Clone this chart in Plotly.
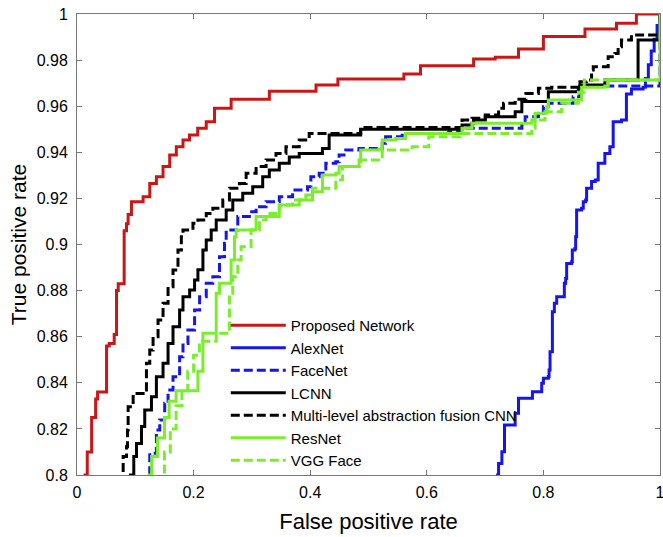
import plotly.graph_objects as go

# ---------------- data ----------------
proposed_x = [0.0137, 0.0137, 0.0176, 0.0176, 0.0251, 0.0251, 0.032, 0.0353, 0.0507, 0.0507, 0.0553, 0.0638, 0.0678,
              0.0707, 0.0809, 0.0849, 0.0877, 0.0934, 0.1134, 0.1248, 0.1362, 0.1476, 0.159, 0.1704, 0.1818, 0.193,
              0.207, 0.2217, 0.2359, 0.2644, 0.33, 0.41, 0.4475, 0.5607, 0.5892, 0.6803, 0.7174, 0.7573, 0.80,
              0.8713, 0.9254, 0.9595, 1.0]
proposed_y = [0.79, 0.80, 0.810, 0.810, 0.821, 0.825, 0.833, 0.836, 0.836, 0.856, 0.857, 0.861, 0.880,
              0.883, 0.906, 0.909, 0.913, 0.9186, 0.9207, 0.9265, 0.9294, 0.9338, 0.9388, 0.9424, 0.9453, 0.9475,
              0.9504, 0.9533, 0.9591, 0.963, 0.9665, 0.9692, 0.9718, 0.974, 0.9776, 0.9805, 0.9812, 0.9848, 0.9902,
              0.9935, 0.996, 1.0, 1.0]

alexnet_x = [0.7214, 0.7214, 0.7231, 0.7288, 0.7333, 0.7333, 0.7516, 0.7516, 0.7573, 0.78, 0.7812, 0.7943, 0.7971,
             0.80, 0.8085, 0.8097, 0.8114, 0.8154, 0.8154, 0.8188, 0.8228, 0.8342, 0.8359, 0.8382, 0.8399, 0.8484,
             0.8496, 0.8541, 0.8553, 0.857, 0.8655, 0.8684, 0.8724, 0.8741, 0.8798, 0.8826, 0.889, 0.894, 0.9054,
             0.914, 0.9197, 0.9339, 0.9424, 0.9424, 0.951, 0.971, 0.975, 0.98, 0.985, 0.99, 0.995, 1.0]
alexnet_y = [0.79, 0.80, 0.805, 0.8101, 0.8108, 0.8217, 0.8217, 0.8268, 0.8333, 0.8333, 0.8361, 0.8361, 0.8398,
             0.842, 0.8427, 0.8456, 0.8535, 0.8542, 0.8708, 0.8745, 0.8773, 0.8773, 0.8832, 0.8853, 0.8918, 0.8925,
             0.8976, 0.8983, 0.9034, 0.915, 0.9157, 0.9186, 0.9193, 0.9244, 0.9244, 0.9273, 0.928, 0.9352, 0.9395,
             0.9424, 0.9533, 0.954, 0.9598, 0.9653, 0.9675, 0.9682, 0.972, 0.978, 0.984, 0.989, 0.995, 1.0]

facenet_x = [0.1191, 0.1191, 0.1248, 0.1362, 0.1419, 0.1504, 0.1562, 0.1647, 0.176, 0.1818, 0.1903, 0.2017, 0.2103,
             0.2217, 0.233, 0.2444, 0.253, 0.2559, 0.2758, 0.2957, 0.3072, 0.3243, 0.347, 0.3698, 0.3954, 0.4011,
             0.4154, 0.4268, 0.4439, 0.4496, 0.461, 0.4838, 0.5236, 0.5293, 0.5578, 0.6376, 0.6576, 0.763, 0.7687,
             0.7915, 0.80, 0.8085, 0.851, 0.8627, 1.0, 1.0]
facenet_y = [0.79, 0.80, 0.8094, 0.8195, 0.8239, 0.8311, 0.8369, 0.8426, 0.8513, 0.8571, 0.8629, 0.8716, 0.8773,
             0.8832, 0.886, 0.8947, 0.9005, 0.9063, 0.9121, 0.9142, 0.9164, 0.9186, 0.9207, 0.9236, 0.9251, 0.9294,
             0.9309, 0.9352, 0.9359, 0.9388, 0.941, 0.9417, 0.9439, 0.9468, 0.9482, 0.9489, 0.9504, 0.9518, 0.9554,
             0.9569, 0.9598, 0.9613, 0.9641, 0.9688, 0.9714, 1.0]

lcnn_x = [0.0917, 0.0917, 0.0974, 0.102, 0.1106, 0.1162, 0.1277, 0.1362, 0.1476, 0.1562, 0.1647, 0.176, 0.1818,
          0.1932, 0.2017, 0.2074, 0.216, 0.2217, 0.2302, 0.2388, 0.2559, 0.2672, 0.2843, 0.3014, 0.3185, 0.3299,
          0.347, 0.3641, 0.3812, 0.421, 0.4325, 0.4866, 0.4866, 0.6576, 0.6604, 0.6775, 0.6803, 0.6974, 0.7003,
          0.7459, 0.7516, 0.763, 0.8085, 0.8085, 0.8598, 0.8627, 0.9054, 0.9624, 0.9624, 0.991, 1.0]
lcnn_y = [0.79, 0.80, 0.808, 0.8137, 0.821, 0.8282, 0.834, 0.8426, 0.8485, 0.8571, 0.8643, 0.8716, 0.8773,
          0.8803, 0.8846, 0.889, 0.8976, 0.902, 0.9063, 0.9106, 0.915, 0.9193, 0.9222, 0.9251, 0.9294, 0.9323,
          0.9352, 0.938, 0.9395, 0.9417, 0.9475, 0.9475, 0.9500, 0.9500, 0.9518, 0.9526, 0.954, 0.954, 0.9554,
          0.9554, 0.9576, 0.9620, 0.9627, 0.9663, 0.9678, 0.9692, 0.9714, 0.9714, 0.9887, 0.9887, 1.0]

mlaf_x = [0.0792, 0.0792, 0.0849, 0.0866, 0.0877, 0.0963, 0.1134, 0.1191, 0.1248, 0.1305, 0.139, 0.1476, 0.1562,
          0.1647, 0.1732, 0.179, 0.1818, 0.196, 0.1989, 0.2074, 0.2217, 0.233, 0.2501, 0.2615, 0.2786, 0.2901,
          0.3072, 0.3243, 0.3413, 0.3584, 0.3812, 0.3983, 0.4866, 0.6576, 0.6604, 0.6775, 0.7003, 0.7231, 0.7316,
          0.7516, 0.77, 0.7915, 0.8142, 0.8627, 0.874, 0.8826, 0.8855, 0.9054, 0.9111, 0.9225, 0.9282, 0.9339,
          0.951, 0.9966, 1.0]
mlaf_y = [0.79, 0.808, 0.8123, 0.8195, 0.8296, 0.8354, 0.8369, 0.8485, 0.8542, 0.86, 0.8672, 0.8745, 0.8817,
          0.8889, 0.8976, 0.9049, 0.9063, 0.907, 0.9092, 0.9106, 0.9135, 0.9157, 0.9193, 0.9244, 0.9265, 0.9309,
          0.9338, 0.9367, 0.9395, 0.9424, 0.9453, 0.9482, 0.9508, 0.9508, 0.954, 0.9548, 0.9562, 0.9591, 0.9613,
          0.963, 0.9655, 0.9678, 0.9682, 0.9706, 0.9714, 0.9757, 0.9771, 0.9771, 0.9815, 0.9829, 0.9858, 0.9887,
          0.9909, 0.9916, 1.0]

resnet_x = [0.1236, 0.1236, 0.128, 0.138, 0.15, 0.158, 0.17, 0.2074, 0.2074, 0.216, 0.2388, 0.2444, 0.2615,
            0.2644, 0.2701, 0.273, 0.2986, 0.3072, 0.347, 0.3812, 0.404, 0.421, 0.4439, 0.4496, 0.4838, 0.4866,
            0.518, 0.5236, 0.5465, 0.5636, 0.6604, 0.6604, 0.6775, 0.78, 0.7858, 0.8057, 0.8085, 0.8598, 0.8655,
            0.9054, 0.9111, 1.0, 1.0]
resnet_y = [0.79, 0.80, 0.808, 0.816, 0.825, 0.832, 0.8366, 0.8366, 0.845, 0.8615, 0.8788, 0.8832, 0.8832,
            0.8933, 0.9034, 0.9063, 0.9063, 0.9121, 0.9171, 0.9193, 0.9229, 0.9302, 0.9309, 0.9338, 0.9359, 0.941,
            0.9413, 0.9453, 0.946, 0.9482, 0.9482, 0.9504, 0.9526, 0.954, 0.9569, 0.9598, 0.9627, 0.9627, 0.9682,
            0.9688, 0.9714, 0.9714, 1.0]

vgg_x = [0.1476, 0.1476, 0.15, 0.16, 0.17, 0.18, 0.19, 0.2, 0.21, 0.2388, 0.2615, 0.2672, 0.2758, 0.2815,
         0.2986, 0.2986, 0.3128, 0.3243, 0.347, 0.3698, 0.3926, 0.404, 0.4439, 0.4553, 0.4838, 0.5236, 0.5749,
         0.6034, 0.6576, 0.78, 0.7858, 0.8028, 0.8313, 0.86, 0.87, 1.0]
vgg_y = [0.79, 0.80, 0.81, 0.82, 0.83, 0.8366, 0.845, 0.852, 0.858, 0.8615, 0.8788, 0.886, 0.8933, 0.899,
         0.9027, 0.9063, 0.9106, 0.9135, 0.9171, 0.9193, 0.9215, 0.9244, 0.928, 0.9338, 0.9367, 0.941, 0.9424,
         0.9468, 0.9482, 0.9504, 0.954, 0.9576, 0.9613, 0.966, 0.9714, 0.9714]

names = ["Proposed Network", "AlexNet", "FaceNet", "LCNN", "Multi-level abstraction fusion CNN", "ResNet", "VGG Face"]
xticks = [0, 0.2, 0.4, 0.6, 0.8, 1]
xticktext = ["0", "0.2", "0.4", "0.6", "0.8", "1"]
yticks = [0.8, 0.82, 0.84, 0.86, 0.88, 0.9, 0.92, 0.94, 0.96, 0.98, 1]
yticktext = ["0.8", "0.82", "0.84", "0.86", "0.88", "0.9", "0.92", "0.94", "0.96", "0.98", "1"]

# ---------------- styling ----------------
RED = "rgb(204,22,22)"
BLUE = "rgb(22,22,235)"
BLACK = "rgb(0,0,0)"
GREEN = "rgb(122,238,44)"
DASH = "9px,4px"

series = [
    (proposed_x, proposed_y, RED, "solid"),
    (alexnet_x, alexnet_y, BLUE, "solid"),
    (facenet_x, facenet_y, BLUE, DASH),
    (lcnn_x, lcnn_y, BLACK, "solid"),
    (mlaf_x, mlaf_y, BLACK, DASH),
    (resnet_x, resnet_y, GREEN, "solid"),
    (vgg_x, vgg_y, GREEN, DASH),
]

fig = go.Figure()
for name, (xs, ys, col, dash) in zip(names, series):
    fig.add_trace(go.Scatter(x=xs, y=ys, mode="lines", name=name,
                             line=dict(color=col, width=3, dash=dash, shape="hv")))

FONT = "Liberation Sans, Arial, Helvetica, sans-serif"
axis_common = dict(showline=True, linecolor="rgb(120,120,120)", linewidth=1, mirror="ticks",
                   ticks="inside", ticklen=5, tickcolor="rgb(120,120,120)", showgrid=False, zeroline=False,
                   automargin=False, ticklabeloverflow="allow",
                   tickfont=dict(family=FONT, size=16, color="black"))

fig.update_layout(
    width=663, height=537,
    margin=dict(l=77, r=3, t=14, b=62),
    paper_bgcolor="white", plot_bgcolor="white",
    font=dict(family=FONT, size=16, color="black"),
    xaxis=dict(range=[0, 1], tickvals=xticks, ticktext=xticktext, ticklabelstandoff=3,
               title=dict(text="False positive rate", font=dict(family=FONT, size=22), standoff=13),
               **axis_common),
    yaxis=dict(range=[0.8, 1], tickvals=yticks, ticktext=yticktext, ticklabelstandoff=5,
               title=dict(text="True positive rate", font=dict(family=FONT, size=21), standoff=4),
               **axis_common),
    legend=dict(x=0.2552, y=0.36, xanchor="left", yanchor="top", bgcolor="rgba(0,0,0,0)",
                borderwidth=0, itemwidth=55, font=dict(family=FONT, size=15, color="black"),
                tracegroupgap=0, itemclick=False),
    showlegend=True,
)

fig.write_html("out.html", config={"displayModeBar": False},
               post_script="document.body.style.margin='0';document.body.style.overflow='hidden';")
